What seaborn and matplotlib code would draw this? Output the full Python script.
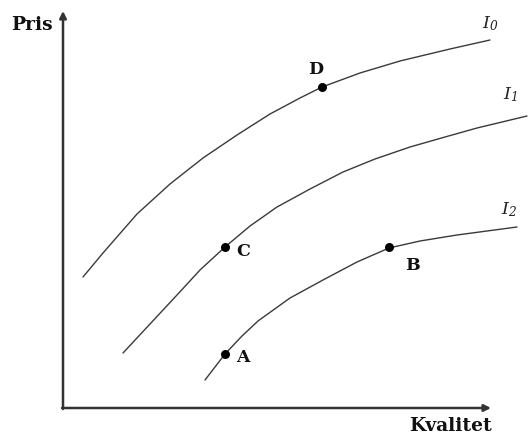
import matplotlib
matplotlib.use("Agg")
import matplotlib.pyplot as plt
import seaborn as sns
import pandas as pd

sns.set_theme(style="white")
plt.rcParams['font.family'] = ['DejaVu Serif', 'Liberation Serif']
plt.rcParams['mathtext.fontset'] = 'custom'
plt.rcParams['mathtext.it'] = 'DejaVu Serif:italic'
plt.rcParams['mathtext.rm'] = 'DejaVu Serif:italic'

# Indifference curves (Kvalitet, Pris)
i0_x = [20, 40, 74, 107, 140, 174, 207, 237, 259, 297, 337, 387, 427]
i0_y = [131, 155, 194, 224, 250, 273, 294, 310, 321, 335, 347, 359, 368]
i1_x = [60, 87, 114, 137, 162, 187, 214, 247, 280, 312, 347, 382, 414, 464]
i1_y = [55, 84, 113, 138, 161, 182, 201, 219, 236, 249, 261, 271, 280, 292]
i2_x = [142, 162, 179, 195, 227, 260, 294, 326, 357, 394, 454]
i2_y = [28, 54, 72, 87, 110, 128, 146, 160, 167, 173, 181]

curve_names = ["I0", "I1", "I2"]
curve_labels = ["$I_0$", "$I_1$", "$I_2$"]

# Points
pt_labels = ["A", "B", "C", "D"]
pt_x = [162, 326, 162, 259]
pt_y = [54, 161, 161, 321]

rows = []
for name, xs, ys in zip(curve_names, [i0_x, i1_x, i2_x], [i0_y, i1_y, i2_y]):
    for x, y in zip(xs, ys):
        rows.append({"curve": name, "x": x, "y": y})
df = pd.DataFrame(rows)
pts = pd.DataFrame({"label": pt_labels, "x": pt_x, "y": pt_y})

fig = plt.figure(figsize=(5.30, 4.37), dpi=100)
ax = fig.add_axes([0, 0, 1, 1])
ax.set_xlim(-63, 467)
ax.set_ylim(-29, 408)

sns.lineplot(data=df, x="x", y="y", units="curve", estimator=None, sort=False,
             color="#3a3a3a", lw=1.0, ax=ax, legend=False)
sns.scatterplot(data=pts, x="x", y="y", color="black", s=42, ax=ax,
                edgecolor="black", linewidth=0, legend=False, zorder=5)

# axes with arrows
ax.annotate("", xy=(0, 397), xytext=(0, -1),
            arrowprops=dict(arrowstyle="-|>", color="#333333", lw=1.8,
                            mutation_scale=10, shrinkA=0, shrinkB=0))
ax.annotate("", xy=(428, 0), xytext=(-1, 0),
            arrowprops=dict(arrowstyle="-|>", color="#333333", lw=1.8,
                            mutation_scale=10, shrinkA=0, shrinkB=0))

bold = dict(fontweight="bold", fontsize=13.5, color="#111111")
ax.text(-31, 383, "Pris", ha="center", va="center", **bold)
ax.text(387, -18, "Kvalitet", ha="center", va="center", **bold)

lab_pos = {"A": (180, 51), "B": (349, 143), "C": (180, 156), "D": (253, 338)}
ptfont = dict(fontweight="bold", fontsize=12.5, color="#111111")
for lab in pt_labels:
    lx, ly = lab_pos[lab]
    ax.text(lx, ly, lab, ha="center", va="center", **ptfont)

ital = dict(fontsize=12.5, color="#222222")
lab_xy = [(427, 384), (447, 313), (446, 198)]
for txt, (lx, ly) in zip(curve_labels, lab_xy):
    ax.text(lx, ly, txt, ha="center", va="center", **ital)

ax.set_axis_off()
fig.savefig("out.png", dpi=100)
